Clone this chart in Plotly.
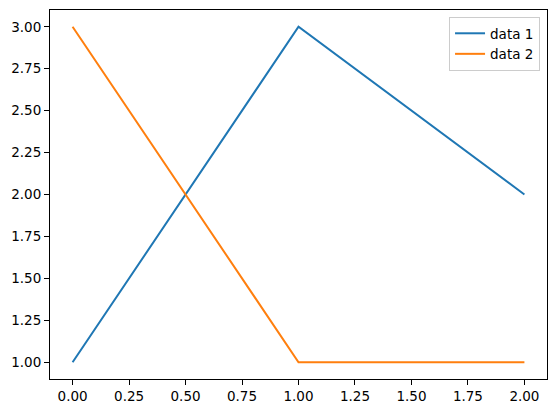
import plotly.graph_objects as go

x_values = [0, 1, 2]
data1 = [1, 3, 2]
data2 = [3, 1, 1]
series_names = ["data 1", "data 2"]
x_ticks = [0, 0.25, 0.5, 0.75, 1.0, 1.25, 1.5, 1.75, 2.0]
y_ticks = [1.0, 1.25, 1.5, 1.75, 2.0, 2.25, 2.5, 2.75, 3.0]

fig = go.Figure()
fig.add_trace(go.Scatter(x=x_values, y=data1, mode="lines", name=series_names[0],
                         line=dict(color="#1f77b4", width=2)))
fig.add_trace(go.Scatter(x=x_values, y=data2, mode="lines", name=series_names[1],
                         line=dict(color="#ff7f0e", width=2)))

axis_common = dict(showgrid=False, zeroline=False, showline=True, linecolor="black",
                   linewidth=1, mirror=True, ticks="outside", ticklen=5, tickwidth=1,
                   tickcolor="black", automargin=False,
                   tickfont=dict(family="DejaVu Sans", size=13.5, color="black"))
fig.update_xaxes(range=[-0.1, 2.1], tickvals=x_ticks,
                 ticktext=[f"{v:.2f}" for v in x_ticks], **axis_common)
fig.update_yaxes(range=[0.9, 3.1], tickvals=y_ticks,
                 ticktext=[f"{v:.2f}" for v in y_ticks], **axis_common)

# page body has an 8px margin, so the figure is offset by 8px
fig.update_layout(
    width=540, height=397,
    margin=dict(l=42, r=1, t=2, b=26),
    plot_bgcolor="white", paper_bgcolor="white",
    font=dict(family="DejaVu Sans", size=13.5, color="black"),
    legend=dict(x=0.986, y=0.981, xanchor="right", yanchor="top",
                bgcolor="rgba(255,255,255,0.8)", bordercolor="#cccccc", borderwidth=1,
                font=dict(family="DejaVu Sans", size=13.5, color="black"),
                tracegroupgap=0, itemwidth=30),
)

fig.write_html("out.html")
